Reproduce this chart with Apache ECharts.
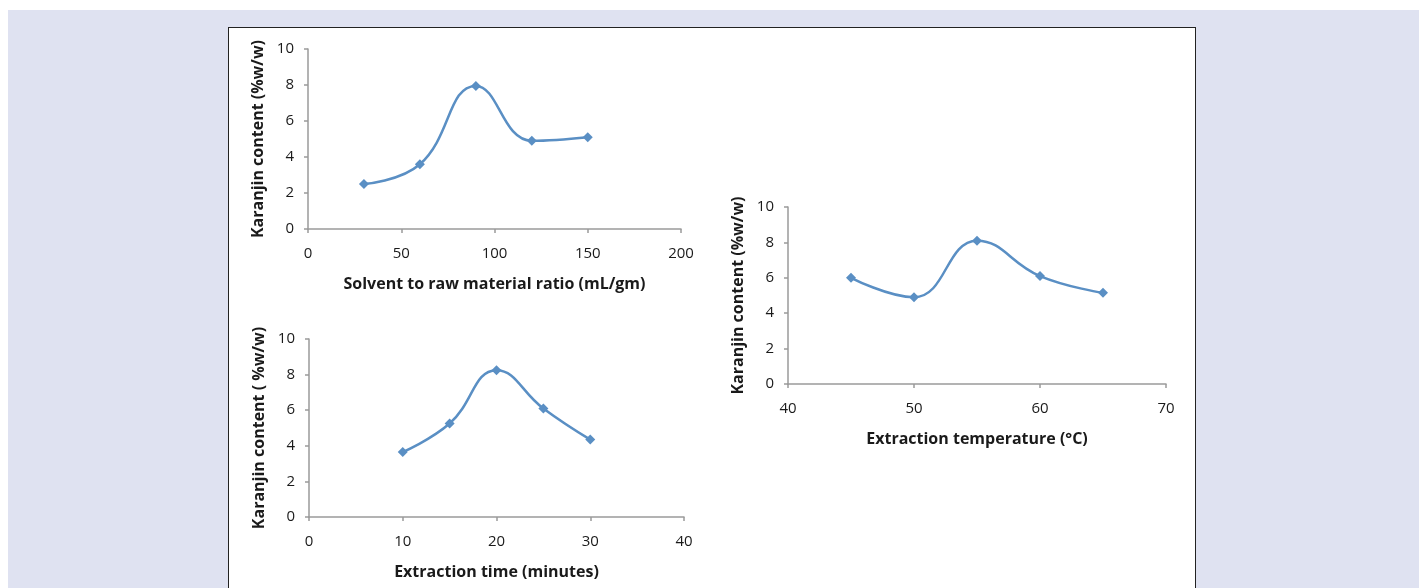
<!DOCTYPE html>
<html>
<head>
<meta charset="utf-8">
<script src="https://cdn.jsdelivr.net/npm/echarts@6/dist/echarts.min.js"></script>
<style>
  html, body { margin: 0; padding: 0; background: #ffffff; }
  #bg { position: absolute; left: 8px; top: 10px; width: 1411px; height: 578px; background: #dfe2f1; }
  #card { position: absolute; left: 228px; top: 27px; width: 968px; height: 570px; background: #ffffff;
          border: 1.5px solid #222; box-sizing: border-box; }
  #chart { position: absolute; left: 0; top: 0; width: 1419px; height: 588px; }
</style>
</head>
<body>
<div id="bg"></div>
<div id="card"></div>
<div id="chart"></div>
<script>
!function(){
	var ratioX = [30, 60, 90, 120, 150];
	var ratioY = [2.5, 3.6, 7.95, 4.9, 5.1];
	var timeX = [10, 15, 20, 25, 30];
	var timeY = [3.65, 5.25, 8.25, 6.1, 4.35];
	var tempX = [45, 50, 55, 60, 65];
	var tempY = [6.0, 4.9, 8.1, 6.1, 5.15];

	var blue = '#5a8fc4';
	var font = '"Open Sans", "Liberation Sans", sans-serif';
	var myChart = echarts.init(document.getElementById('chart'));

	function pairs(xs, ys){
		var out = [];
		for (var i = 0; i < xs.length; i++) out.push([xs[i], ys[i]]);
		return out;
	}

	function xAxis(idx, min, max, interval, name){
		return {
			type: 'value', gridIndex: idx, min: min, max: max, interval: interval,
			name: name, nameLocation: 'middle', nameGap: 47,
			nameTextStyle: {fontFamily: font, fontWeight: 'bold', fontSize: 16, color: '#1a1a1a'},
			axisLine: {show: true, lineStyle: {color: '#9a9a9a', width: 1.5}},
			axisTick: {show: true, length: 4, lineStyle: {color: '#9a9a9a', width: 1.5}},
			axisLabel: {fontFamily: font, fontSize: 15, color: '#1a1a1a', margin: 17},
			splitLine: {show: false}
		};
	}
	function yAxis(idx, name){
		return {
			type: 'value', gridIndex: idx, min: 0, max: 10, interval: 2,
			name: name, nameLocation: 'middle', nameGap: 42,
			nameTextStyle: {fontFamily: font, fontWeight: 'bold', fontSize: 16, color: '#1a1a1a'},
			axisLine: {show: true, lineStyle: {color: '#9a9a9a', width: 1.5}},
			axisTick: {show: true, length: 4, lineStyle: {color: '#9a9a9a', width: 1.5}},
			axisLabel: {fontFamily: font, fontSize: 15, color: '#1a1a1a', margin: 14},
			splitLine: {show: false}
		};
	}
	function line(idx, data){
		return {
			type: 'line', xAxisIndex: idx, yAxisIndex: idx, data: data,
			smooth: 0.45, symbol: 'diamond', symbolSize: 10, showSymbol: true,
			lineStyle: {color: blue, width: 2.5},
			itemStyle: {color: blue}
		};
	}

	var option = {
		animation: false,
		backgroundColor: 'transparent',
		grid: [
			{left: 308, top: 49, width: 373, height: 180},
			{left: 309, top: 339, width: 375, height: 178},
			{left: 788, top: 207, width: 378, height: 177}
		],
		xAxis: [
			xAxis(0, 0, 200, 50, 'Solvent to raw material ratio (mL/gm)'),
			xAxis(1, 0, 40, 10, 'Extraction time (minutes)'),
			xAxis(2, 40, 70, 10, 'Extraction temperature (°C)')
		],
		yAxis: [
			yAxis(0, 'Karanjin content (%w/w)'),
			yAxis(1, 'Karanjin content ( %w/w)'),
			yAxis(2, 'Karanjin content (%w/w)')
		],
		series: [
			line(0, pairs(ratioX, ratioY)),
			line(1, pairs(timeX, timeY)),
			line(2, pairs(tempX, tempY))
		]
	};
	myChart.setOption(option, true);
}();
</script>
</body>
</html>
